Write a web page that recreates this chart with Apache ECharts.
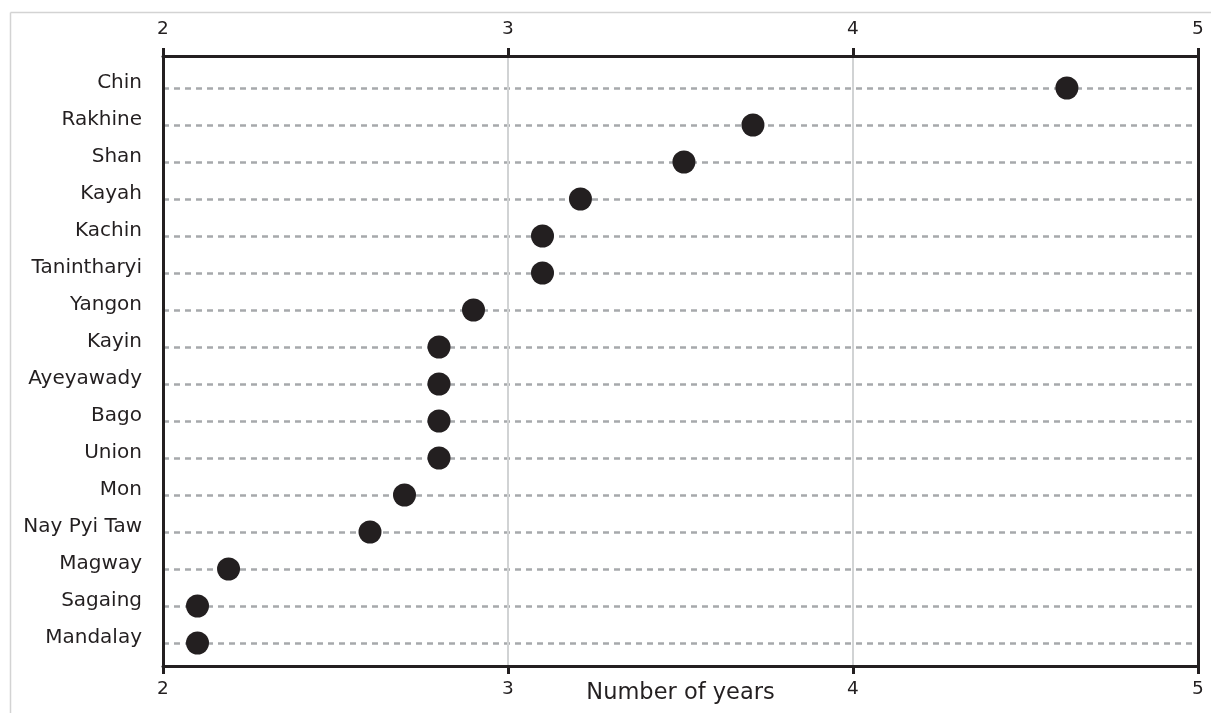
<!DOCTYPE html>
<html>
<head>
<meta charset="utf-8">
<script src="https://cdn.jsdelivr.net/npm/echarts@6/dist/echarts.min.js"></script>
<style>
html,body{margin:0;padding:0;background:#fff;overflow:hidden;}
#chart{width:1211px;height:713px;}
</style>
</head>
<body>
<div id="chart"></div>
<script>
var regions = ['Chin','Rakhine','Shan','Kayah','Kachin','Tanintharyi','Yangon','Kayin','Ayeyawady','Bago','Union','Mon','Nay Pyi Taw','Magway','Sagaing','Mandalay'];
var years = [4.62, 3.71, 3.51, 3.21, 3.1, 3.1, 2.9, 2.8, 2.8, 2.8, 2.8, 2.7, 2.6, 2.19, 2.1, 2.1];
var xTicks = [2, 3, 4, 5];
var axisName = 'Number of years';

var FONT = '"DejaVu Sans"';
var INK = '#231f20';
var chart = echarts.init(document.getElementById('chart'), null, {renderer: 'canvas'});

function frameX(pos, margin) {
  return {
    type: 'value', gridIndex: 0, position: pos,
    min: xTicks[0], max: xTicks[xTicks.length - 1], interval: 1,
    axisLine: {show: true, onZero: false, lineStyle: {color: INK, width: 3}},
    axisTick: {show: true, inside: false, length: 8, lineStyle: {color: INK, width: 3}},
    axisLabel: {color: INK, fontSize: 18.5, fontFamily: FONT, margin: margin},
    splitLine: {show: false}
  };
}

var xTop = frameX('top', 17);
xTop.splitLine = {show: true, lineStyle: {color: '#d1d3d4', width: 2}};
var xBottom = frameX('bottom', 14);
xBottom.name = axisName;
xBottom.nameLocation = 'middle';
xBottom.nameGap = 16;
xBottom.nameMoveOverlap = false;
xBottom.nameTextStyle = {color: INK, fontSize: 22.5, fontFamily: FONT, verticalAlign: 'top'};

var option = {
  animation: false,
  backgroundColor: '#ffffff',
  graphic: [
    {type: 'line', shape: {x1: 10.5, y1: 12.5, x2: 1211, y2: 12.5}, style: {stroke: '#d3d3d3', lineWidth: 1.5}, silent: true},
    {type: 'line', shape: {x1: 10.5, y1: 12.5, x2: 10.5, y2: 713}, style: {stroke: '#d3d3d3', lineWidth: 1.5}, silent: true}
  ],
  grid: [
    {left: 163, right: 13, top: 56, bottom: 47, containLabel: false, outerBoundsMode: 'none'},
    {left: 163, right: 13, top: 88, bottom: 70, containLabel: false, outerBoundsMode: 'none'}
  ],
  xAxis: [
    xTop,
    xBottom,
    {type: 'value', gridIndex: 1, min: xTicks[0], max: xTicks[xTicks.length - 1], show: false}
  ],
  yAxis: [
    {type: 'value', gridIndex: 0, position: 'left', min: 0, max: 1,
     axisLine: {show: true, onZero: false, lineStyle: {color: INK, width: 3}},
     axisTick: {show: false}, axisLabel: {show: false}, splitLine: {show: false}},
    {type: 'value', gridIndex: 0, position: 'right', min: 0, max: 1,
     axisLine: {show: true, onZero: false, lineStyle: {color: INK, width: 3}},
     axisTick: {show: false}, axisLabel: {show: false}, splitLine: {show: false}},
    {type: 'category', gridIndex: 1, data: regions, inverse: true, boundaryGap: false,
     axisLine: {show: false}, axisTick: {show: false},
     axisLabel: {color: INK, fontSize: 20, fontFamily: FONT, margin: 21,
                 verticalAlign: 'bottom', lineHeight: 11},
     splitLine: {show: true, lineStyle: {color: '#a7a9ac', width: 2.5, type: [6, 5]}}}
  ],
  series: [{
    type: 'scatter',
    xAxisIndex: 2, yAxisIndex: 2,
    symbol: 'circle', symbolSize: 23,
    itemStyle: {color: INK, opacity: 1},
    z: 10,
    data: regions.map(function (r, i) { return [years[i], r]; })
  }]
};
chart.setOption(option);
</script>
</body>
</html>
